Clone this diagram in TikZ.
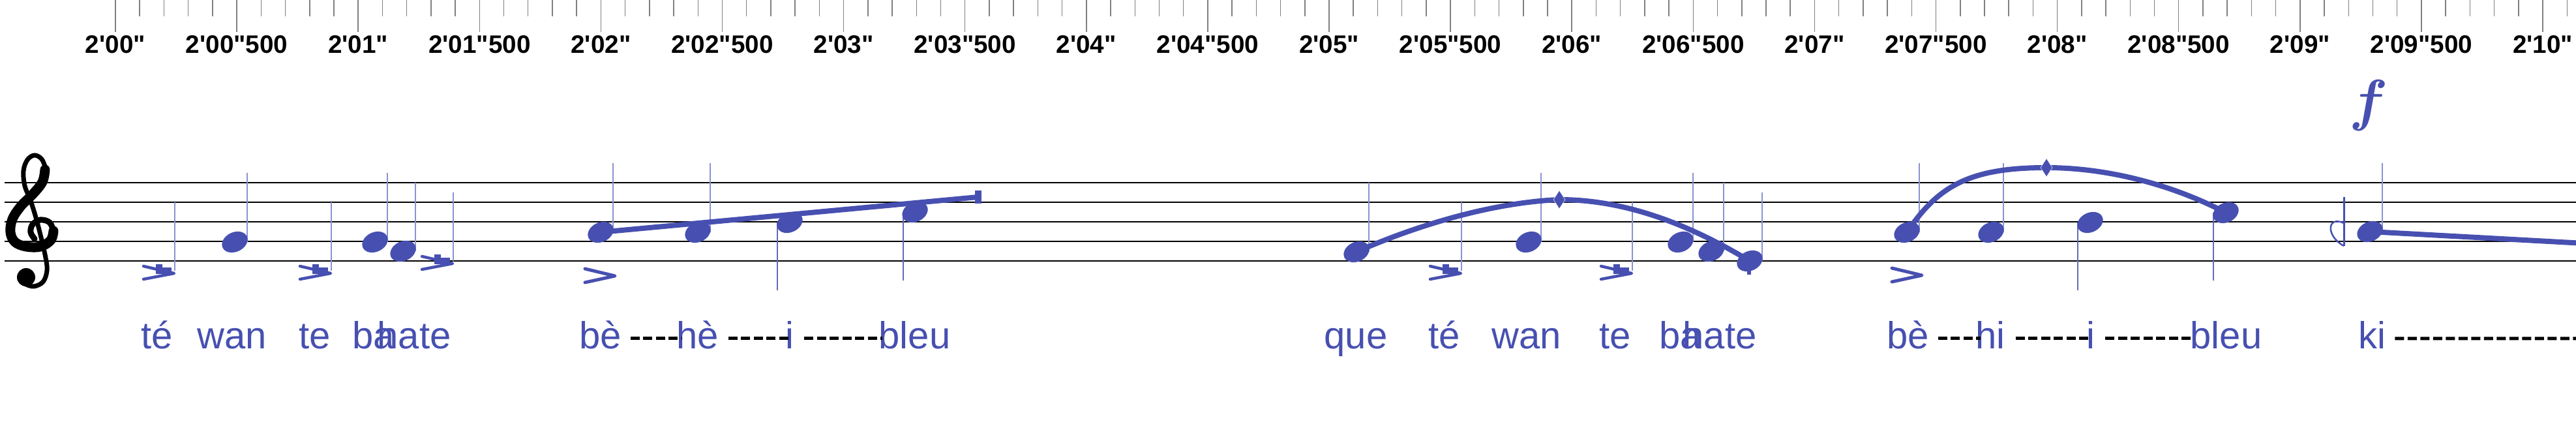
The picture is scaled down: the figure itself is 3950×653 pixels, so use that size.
\documentclass[tikz,border=0pt]{standalone}
\usepackage{fontspec}
\usepackage{bm}
\usetikzlibrary{shapes.geometric}
\newfontfamily\rulerfont{Liberation Sans}[Ligatures=TeXOff]
\newfontfamily\lyrfont{Liberation Sans}
\definecolor{notecol}{RGB}{71,80,176}
\definecolor{stemcol}{RGB}{138,146,212}
\definecolor{tickcol}{RGB}{128,128,128}
\tikzset{
  head/.style={ellipse, fill=notecol, minimum width=4.1mm, minimum height=3mm, inner sep=0pt, rotate=25},
  stemup/.style={stemcol, line width=0.2mm},
  stemdn/.style={notecol!85, line width=0.13mm},
  gliss/.style={notecol, line width=0.8mm},
  staffline/.style={black, line width=0.12mm},
  rulertick/.style={tickcol, line width=0.15mm},
  rulerlab/.style={anchor=base, inner sep=0pt, font=\rulerfont\bfseries\fontsize{11}{12}\selectfont},
  lyr/.style={anchor=base west, inner sep=0pt, text=notecol, font=\lyrfont\fontsize{16.5}{18}\selectfont},
  lyrdash/.style={black, line width=0.5mm, dash pattern=on 1.4mm off 0.55mm},
  accblock/.pic={
    \fill[notecol] (19,0) rectangle (29,6);
    \fill[notecol] (19,5) rectangle (43,15);
    \draw[notecol, line width=0.45mm, line cap=round, line join=round] (0,3) -- (47,14) -- (0,23);
  },
  accmark/.pic={
    \draw[notecol, line width=0.5mm, line cap=round, line join=round] (0,2) -- (46,13) -- (0,23);
  },
  diamark/.pic={
    \filldraw[fill=notecol, draw=white, line width=0.05mm] (0,-14) -- (9,0) -- (0,14) -- (-9,0) -- cycle;
  }
}
\begin{document}
\begin{tikzpicture}[x=0.1mm, y=-0.1mm]
  \useasboundingbox (0,0) rectangle (3950,653);
  % time ruler
  \foreach \i in {0,...,101}
    \draw[rulertick] (177+37.22*\i,0) -- (177+37.22*\i,25);
  \foreach \lab [count=\k from 0] in {2'00",2'00"500,2'01",2'01"500,2'02",2'02"500,2'03",2'03"500,2'04",2'04"500,2'05",2'05"500,2'06",2'06"500,2'07",2'07"500,2'08",2'08"500,2'09",2'09"500,2'10"}{
    \draw[rulertick] (177+186.1*\k,0) -- (177+186.1*\k,49);
    \node[rulerlab] (t\k) at (177+186.1*\k,82) {\lab};
  }
  % staff
  \foreach \y in {280,310,340,370,400}
    \draw[staffline] (7,\y) -- (3950,\y);
  % clef
  \draw[line width=0.7mm, line cap=round] plot[smooth, tension=0.6] coordinates
    {(40,436) (52,439) (66,432) (72,415) (70,395) (62,360) (54,330) (46,305) (38,285) (36,262) (42,245) (53,238) (64,244) (70,258)};
  \draw[line width=1.5mm, line cap=round] plot[smooth, tension=0.6] coordinates
    {(69,260) (65,279) (50,298) (32,316) (19,336) (16,356) (23,371) (40,378) (62,378) (78,368) (82,354)};
  \draw[line width=0.9mm, line cap=round] plot[smooth, tension=0.6] coordinates
    {(82,354) (76,341) (62,337) (50,344) (47,356) (53,366)};
  \fill (40,425) circle (1.4mm);

  % phrase 1: te wan te bahate
  \draw[stemup] (268,310) -- (268,415);
  \draw[stemup] (379,265) -- (379,371);
  \draw[stemup] (508,310) -- (508,415);
  \draw[stemup] (594,265) -- (594,371);
  \draw[stemup] (637,280) -- (637,385);
  \draw[stemup] (695,295) -- (695,400);
  \pic at (220,405) {accblock};
  \pic at (460,405) {accblock};
  \pic at (647,390) {accblock};
  \node[head] (wanA) at (360,371) {};
  \node[head] (baA) at (575,371) {};
  \node[head] (haA) at (618,385) {};
  \node[lyr] (lteA) at (216,535) {té};
  \node[lyr] (lwanA) at (302,535) {wan};
  \node[lyr] (lteB) at (458,535) {te};
  \node[lyr] (lbaA) at (540,535) {ba};
  \node[lyr] (lhateA) at (578,535) {hate};

  % phrase 2: be he i bleu
  \pic at (897,410) {accmark};
  \draw[stemup] (940,250) -- (940,356);
  \draw[stemup] (1089,250) -- (1089,356);
  \draw[stemdn] (1192,341) -- (1192,445);
  \draw[stemdn] (1385,325) -- (1385,430);
  \node[head] (beB) at (921,356) {};
  \node[head] (heB) at (1070,356) {};
  \node[head] (iB) at (1211,341) {};
  \node[head] (bleuB) at (1403,325) {};
  \coordinate (glissB) at (1500,302);
  \draw[gliss] (beB.center) -- (glissB);
  \fill[notecol] (1495,292) rectangle (1505,312);
  \node[lyr] (lbeB) at (888,535) {bè};
  \node[lyr] (lheB) at (1037,535) {hè};
  \node[lyr] (liB) at (1204,535) {i};
  \node[lyr] (lbleuB) at (1347,535) {bleu};
  \draw[lyrdash] ([xshift=1.3mm,yshift=1.6mm]lbeB.base east) -- ([xshift=0.8mm,yshift=1.6mm]lheB.base west);
  \draw[lyrdash] ([xshift=1.4mm,yshift=1.6mm]lheB.base east) -- ([xshift=0.6mm,yshift=1.6mm]liB.base west);
  \draw[lyrdash] ([xshift=1.5mm,yshift=1.6mm]liB.base east) -- ([xshift=0.6mm,yshift=1.6mm]lbleuB.base west);

  % phrase 3: que te wan te bahate
  \draw[stemup] (2099,280) -- (2099,386);
  \draw[stemup] (2241,310) -- (2241,415);
  \draw[stemup] (2363,265) -- (2363,371);
  \draw[stemup] (2503,310) -- (2503,415);
  \draw[stemup] (2596,265) -- (2596,371);
  \draw[stemup] (2643,280) -- (2643,385);
  \draw[stemup] (2702,295) -- (2702,400);
  \pic at (2193,405) {accblock};
  \pic at (2455,405) {accblock};
  \node[head] (queC) at (2080,386) {};
  \node[head] (wanC) at (2344,371) {};
  \node[head] (baC) at (2577,371) {};
  \node[head] (haC) at (2624,385) {};
  \node[head] (teC) at (2683,400) {};
  \fill[notecol] (2679,400) rectangle (2685,421);
  \coordinate (diaC) at (2391,306);
  \draw[gliss] (queC.center) .. controls (2190,338) and (2300,310) .. (diaC)
    .. controls (2500,306) and (2600,350) .. (teC.center);
  \pic at (diaC) {diamark};
  \node[lyr] (lqueC) at (2030,535) {que};
  \node[lyr] (lteC) at (2190,535) {té};
  \node[lyr] (lwanC) at (2287,535) {wan};
  \node[lyr] (lteD) at (2452,535) {te};
  \node[lyr] (lbaC) at (2544,535) {ba};
  \node[lyr] (lhateC) at (2580,535) {hate};

  % phrase 4: be hi i bleu
  \pic at (2901,409) {accmark};
  \draw[stemup] (2943,250) -- (2943,356);
  \draw[stemup] (3072,250) -- (3072,356);
  \draw[stemdn] (3186,341) -- (3186,445);
  \draw[stemdn] (3394,326) -- (3394,430);
  \node[head] (beD) at (2924,356) {};
  \node[head] (hiD) at (3053,356) {};
  \node[head] (iD) at (3205,341) {};
  \node[head] (bleuD) at (3413,326) {};
  \coordinate (diaD) at (3138,257);
  \draw[gliss] (beD.center) .. controls (2972,285) and (3020,257) .. (diaD)
    .. controls (3225,257) and (3325,280) .. (bleuD.center);
  \pic at (diaD) {diamark};
  \node[lyr] (lbeD) at (2893,535) {bè};
  \node[lyr] (lhiD) at (3029,535) {hi};
  \node[lyr] (liD) at (3199,535) {i};
  \node[lyr] (lbleuD) at (3358,535) {bleu};
  \draw[lyrdash] ([xshift=1.3mm,yshift=1.6mm]lbeD.base east) -- ([xshift=0.8mm,yshift=1.6mm]lhiD.base west);
  \draw[lyrdash] ([xshift=1.5mm,yshift=1.6mm]lhiD.base east) -- ([xshift=0.6mm,yshift=1.6mm]liD.base west);
  \draw[lyrdash] ([xshift=1.5mm,yshift=1.6mm]liD.base east) -- ([xshift=0.6mm,yshift=1.6mm]lbleuD.base west);

  % phrase 5: ki
  \node[text=notecol, inner sep=0pt, font=\fontsize{26}{28}\selectfont] (forte) at (3632,162) {$\bm{f}$};
  \draw[notecol, line width=0.3mm] (3594,302) -- (3594,377);
  \draw[notecol, line width=0.25mm] (3594,342) .. controls (3568,330) and (3566,362) .. (3594,377);
  \draw[stemup] (3653,250) -- (3653,355);
  \node[head] (kiE) at (3634,355) {};
  \coordinate (glissE) at (3962,373);
  \draw[gliss] (kiE.center) -- (glissE);
  \node[lyr] (lkiE) at (3616,535) {ki};
  \coordinate (lyrend) at (3950,519);
  \draw[lyrdash] ([xshift=1.3mm,yshift=1.6mm]lkiE.base east) -- (lyrend);
\end{tikzpicture}
\end{document}
